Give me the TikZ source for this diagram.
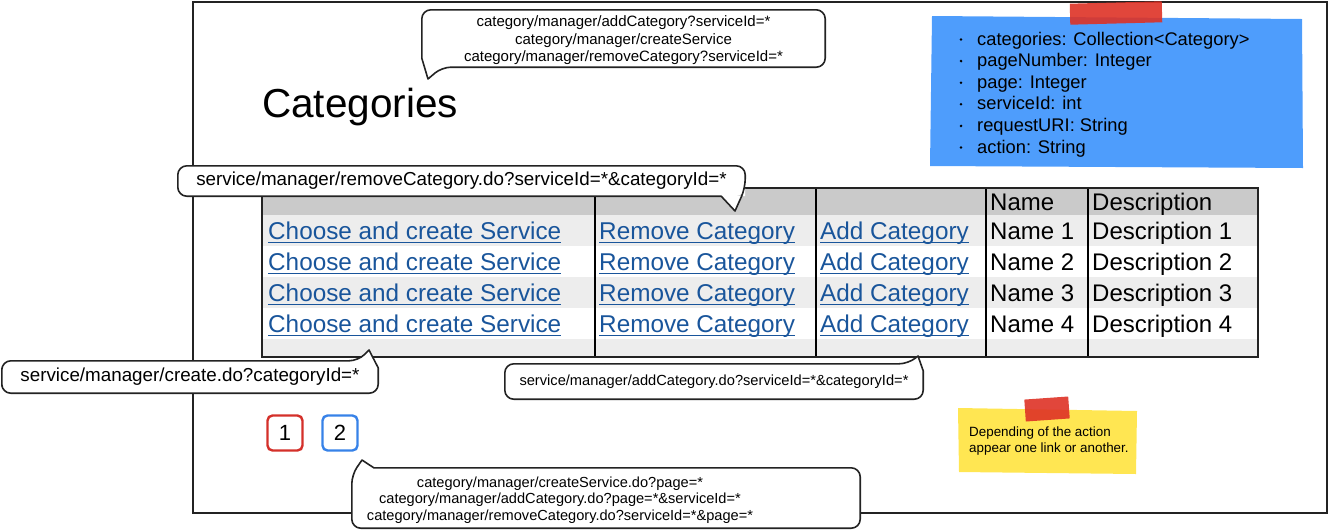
\documentclass[tikz,border=0pt]{standalone}
\usepackage{fontspec}
\setmainfont{Liberation Sans}
\definecolor{linkblue}{RGB}{25,85,155}
\definecolor{headgray}{RGB}{202,202,202}
\definecolor{rowgray}{RGB}{237,237,237}
\definecolor{noteblue}{RGB}{78,157,252}
\definecolor{noteyellow}{RGB}{255,230,82}
\definecolor{tapered}{RGB}{222,50,38}
\definecolor{pagered}{RGB}{212,48,42}
\definecolor{pageblue}{RGB}{55,130,232}
\definecolor{inkgray}{RGB}{35,35,35}
\newcommand{\ulink}[1]{\setbox0\hbox{#1}\rlap{\rule[-4pt]{\wd0}{1.5pt}}\box0}
\tikzset{
  cell/.style = {anchor=base west, inner sep=0pt,
    font=\fontsize{24}{28}\selectfont},% table text
  linkcell/.style = {cell, text=linkblue, font=\fontsize{24.3}{28}\selectfont},% underlined link
  vartext/.style = {anchor=base west, inner sep=0pt,
    font=\fontsize{18.3}{22}\selectfont},
  callnode/.style = {fill=white, rounded corners=9pt, inner sep=0pt,
    align=center},% balloon body
  calltext/.style = {inner sep=0pt, align=center},
  callline/.style = {draw=inkgray, line width=1.6pt, line join=round},
  pagebtn/.style = {draw, rounded corners=5pt, line width=2.4pt,
    minimum size=35pt, inner sep=0pt, font=\fontsize{22}{26}\selectfont},
  tape/.style = {fill=tapered, opacity=0.9, inner sep=0pt},
}
\begin{document}
\begin{tikzpicture}[x=1pt,y=-1pt]
\useasboundingbox (0,0) rectangle (1331,531);
\draw[inkgray, line width=2pt] (193,2) rectangle (1327,513);

% sticky notes
\fill[noteblue] (932,16) -- (1302,19) -- (1303,168) -- (930,166) -- cycle;
\node[tape, minimum width=92pt, minimum height=21pt, rotate=1.5] (tapeBlue) at (1116,13) {};
\foreach \v [count=\i] in {categories: Collection<Category>, pageNumber: Integer,
    page: Integer, serviceId: int, requestURI: String, action: String} {
  \node[vartext] (var\i) at (977,{45+21.6*(\i-1)}) {\v};
  \fill ([xshift=-16pt,yshift=5.5pt]var\i.base west) circle (1.4pt);
}
\fill[noteyellow] (958,408) -- (1137,411) -- (1136,474) -- (959,472) -- cycle;
\node[tape, minimum width=44pt, minimum height=22pt, rotate=4] (tapeYellow) at (1047,409) {};
\node[anchor=west, inner sep=0pt, align=left, font=\fontsize{13.4}{16}\selectfont]
  (hint) at (969,441) {Depending of the action\\appear one link or another.};

\node[anchor=base west, inner sep=0pt, font=\fontsize{40.5}{48}\selectfont] (title) at (262,117) {Categories};

% table
\fill[headgray] (262,188) rectangle (1258,215);
\fill[rowgray] (262,215) rectangle (1258,246);
\fill[rowgray] (262,277) rectangle (1258,308);
\fill[rowgray] (262,339) rectangle (1258,357);
\foreach \x in {595,816,986,1088}
  \draw[black, line width=1.8pt] (\x,188) -- (\x,357);
\draw[inkgray, line width=2.4pt] (262,188) rectangle (1258,357);
\node[cell] (hName) at (990,210) {Name};
\node[cell] (hDesc) at (1092,210) {Description};
\foreach \i in {1,...,4} {
  \node[linkcell] (choose\i) at (268,{208+31*\i}) {\ulink{Choose and create Service}};
  \node[linkcell] (remove\i) at (599,{208+31*\i}) {\ulink{Remove Category}};
  \node[linkcell] (add\i) at (820,{208+31*\i}) {\ulink{Add Category}};
  \node[cell] (name\i) at (990,{208+31*\i}) {Name \i};
  \node[cell] (desc\i) at (1092,{208+31*\i}) {Description \i};
}

\node[pagebtn, draw=pagered] (page1) at (285,433) {1};
\node[pagebtn, draw=pageblue] (page2) at (340,433) {2};

% balloons
\node[callnode, minimum width=403pt, minimum height=57pt] (cTop) at (623.5,38.5) {};
\node[calltext, font=\fontsize{15}{17.5}\selectfont] (cTopText) at (623.5,40.5)
  {category/manager/addCategory?serviceId=*\\category/manager/createService\\category/manager/removeCategory?serviceId=*};
\coordinate (tTop) at (428,79);
\fill[white] ([yshift=9pt]cTop.south west) -- (tTop) -- ([xshift=20pt]cTop.south west) -- (cTop.south west) -- cycle;
\draw[callline] (cTop.north) [rounded corners=9pt] -- (cTop.north east) -- (cTop.south east)
  -- ([xshift=20pt]cTop.south west) [sharp corners] -- (tTop) -- ([yshift=9pt]cTop.south west)
  [rounded corners=9pt] -- (cTop.north west) -- cycle;

\node[callnode, minimum width=567pt, minimum height=30pt, font=\fontsize{18.8}{22}\selectfont]
  (cRemove) at (461.5,181) {service/manager/removeCategory.do?serviceId=*\&categoryId=*};
\coordinate (tRemove) at (735,211);
\fill[white] ([xshift=-24pt]cRemove.south east) -- (tRemove) -- ([yshift=8pt]cRemove.south east) -- (cRemove.south east) -- cycle;
\draw[callline] (cRemove.north) [rounded corners=9pt] -- (cRemove.north east)
  -- ([yshift=8pt]cRemove.south east) [sharp corners] -- (tRemove) -- ([xshift=-24pt]cRemove.south east)
  [rounded corners=9pt] -- (cRemove.south west) -- (cRemove.north west) -- cycle;

\node[callnode, minimum width=376pt, minimum height=32pt, font=\fontsize{18.8}{22}\selectfont]
  (cCreate) at (190,377) {service/manager/create.do?categoryId=*};
\coordinate (tCreate) at (369,350);
\fill[white] ([xshift=-20pt]cCreate.north east) -- (tCreate) -- ([yshift=-7pt]cCreate.north east) -- (cCreate.north east) -- cycle;
\draw[callline] (cCreate.west) [rounded corners=9pt] -- (cCreate.north west)
  -- ([xshift=-20pt]cCreate.north east) [sharp corners] -- (tCreate) -- ([yshift=-7pt]cCreate.north east)
  [rounded corners=9pt] -- (cCreate.south east) -- (cCreate.south west) -- cycle;

\node[callnode, minimum width=418pt, minimum height=35pt, font=\fontsize{14.65}{17}\selectfont]
  (cAdd) at (714,381.5) {service/manager/addCategory.do?serviceId=*\&categoryId=*};
\coordinate (tAdd) at (918,356);
\fill[white] ([xshift=-15pt]cAdd.north east) -- (tAdd) -- ([yshift=-7pt]cAdd.north east) -- (cAdd.north east) -- cycle;
\draw[callline] (cAdd.west) [rounded corners=9pt] -- (cAdd.north west)
  -- ([xshift=-15pt]cAdd.north east) [sharp corners] -- (tAdd) -- ([yshift=-7pt]cAdd.north east)
  [rounded corners=9pt] -- (cAdd.south east) -- (cAdd.south west) -- cycle;

\node[callnode, minimum width=508pt, minimum height=60pt] (cPage) at (606,498) {};
\node[calltext, font=\fontsize{14.6}{16.5}\selectfont] (cPageText) at (560,500)
  {category/manager/createService.do?page=*\\category/manager/addCategory.do?page=*\&serviceId=*\\category/manager/removeCategory.do?serviceId=*\&page=*};
\coordinate (tPage) at (362,460);
\fill[white] ([yshift=-7pt]cPage.north west) -- (tPage) -- ([xshift=22pt]cPage.north west) -- (cPage.north west) -- cycle;
\draw[callline] (cPage.north) [rounded corners=9pt] -- (cPage.north east) -- (cPage.south east)
  -- (cPage.south west) -- ([yshift=-7pt]cPage.north west) [sharp corners] -- (tPage)
  -- ([xshift=22pt]cPage.north west) [rounded corners=9pt] -- cycle;
\end{tikzpicture}
\end{document}
